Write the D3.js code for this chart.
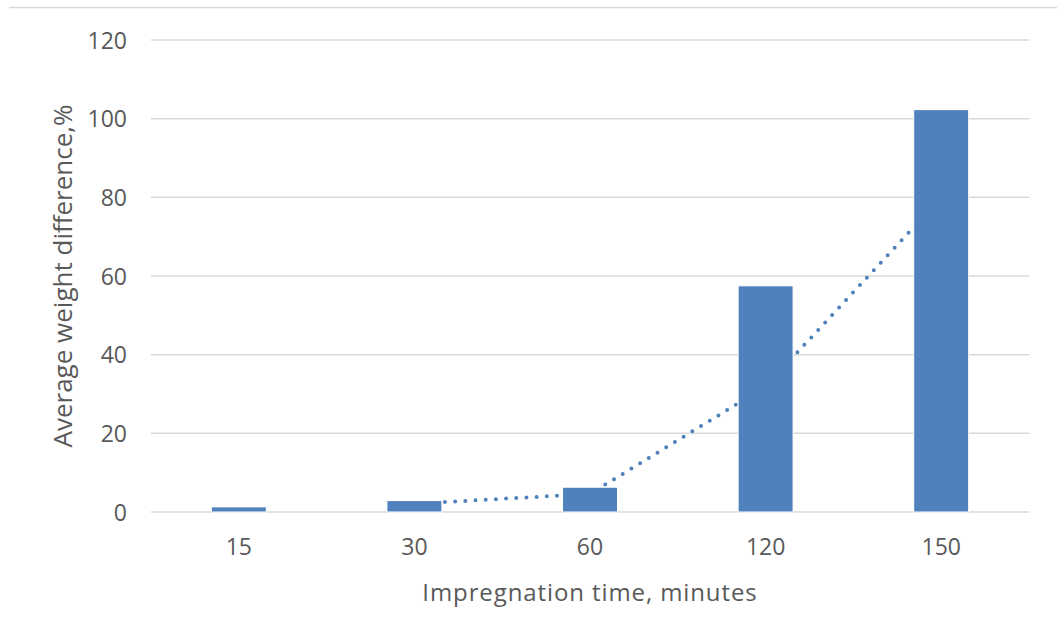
<!DOCTYPE html>
<html>
<head>
<meta charset="utf-8">
<script src="https://cdn.jsdelivr.net/npm/d3@7"></script>
<style>
  html, body { margin: 0; padding: 0; background: #fff; }
  svg { display: block; }
  text { font-family: "Open Sans", Lato, sans-serif; fill: #595959; }
</style>
</head>
<body>
<svg id="chart" width="1057" height="619"></svg>
<script>
// ---- data ----
const categories = ["15", "30", "60", "120", "150"];
const values = [1.3, 2.9, 6.3, 57.5, 102.3];
// dotted trend line (2-period moving average)
const trendValues = [null, 2.1, 4.6, 31.9, 79.9];
const yTicks = [0, 20, 40, 60, 80, 100, 120];
const xTitle = "Impregnation time, minutes";
const yTitle = "Average weight difference,%";

// ---- layout ----
const W = 1057, H = 619;
const plot = { left: 151, right: 1029, top: 40, bottom: 512 };
const blue = "#4f81bd";

const svg = d3.select("#chart");

// chart-area top border
svg.append("line")
  .attr("x1", 9).attr("x2", W).attr("y1", 7.5).attr("y2", 7.5)
  .attr("stroke", "#d9d9d9").attr("stroke-width", 1.5);

const x = d3.scaleBand()
  .domain(categories)
  .range([plot.left, plot.right])
  .paddingInner(0.687)
  .paddingOuter(0.3435);

const y = d3.scaleLinear()
  .domain([0, 120])
  .range([plot.bottom, plot.top]);

// gridlines
svg.append("g")
  .selectAll("line")
  .data(yTicks)
  .join("line")
  .attr("x1", plot.left).attr("x2", plot.right)
  .attr("y1", d => y(d)).attr("y2", d => y(d))
  .attr("stroke", "#d9d9d9").attr("stroke-width", 1.5);

// y axis labels
const yAxis = d3.axisLeft(y).tickValues(yTicks).tickSize(0).tickPadding(0);
const gy = svg.append("g").attr("transform", `translate(127,0)`).call(yAxis);
gy.select(".domain").remove();
gy.selectAll("text").style("font-size", "23px").attr("fill", "#595959").attr("dy", "0.36em");

// x axis labels
const xAxis = d3.axisBottom(x).tickSize(0).tickPadding(0);
const gx = svg.append("g").attr("transform", `translate(0,${plot.bottom})`).call(xAxis);
gx.select(".domain").remove();
gx.selectAll("text").style("font-size", "23px").attr("fill", "#595959").attr("dy", null).attr("y", 43);

// trend line (behind bars)
const trendData = categories.map((c, i) => ({ c, v: trendValues[i] })).filter(d => d.v != null);
const line = d3.line()
  .x(d => x(d.c) + x.bandwidth() / 2)
  .y(d => y(d.v));
svg.append("path")
  .datum(trendData)
  .attr("d", line)
  .attr("fill", "none")
  .attr("stroke", blue)
  .attr("stroke-width", 4)
  .attr("stroke-linecap", "round")
  .attr("stroke-dasharray", "0,10.2");

// bars
svg.append("g")
  .selectAll("rect")
  .data(categories.map((c, i) => ({ c, v: values[i] })))
  .join("rect")
  .attr("x", d => x(d.c))
  .attr("width", x.bandwidth())
  .attr("y", d => y(d.v))
  .attr("height", d => y(0) - y(d.v))
  .attr("fill", blue)
  .attr("stroke", "#ffffff")
  .attr("stroke-width", 1);

// axis titles
svg.append("text")
  .attr("x", (plot.left + plot.right) / 2)
  .attr("y", 601)
  .attr("text-anchor", "middle")
  .style("font-size", "24px")
  .style("letter-spacing", "0.9px")
  .text(xTitle);

svg.append("text")
  .attr("transform", `translate(72,${(plot.top + plot.bottom) / 2}) rotate(-90)`)
  .attr("text-anchor", "middle")
  .style("font-size", "26px")
  .text(yTitle);
</script>
</body>
</html>
